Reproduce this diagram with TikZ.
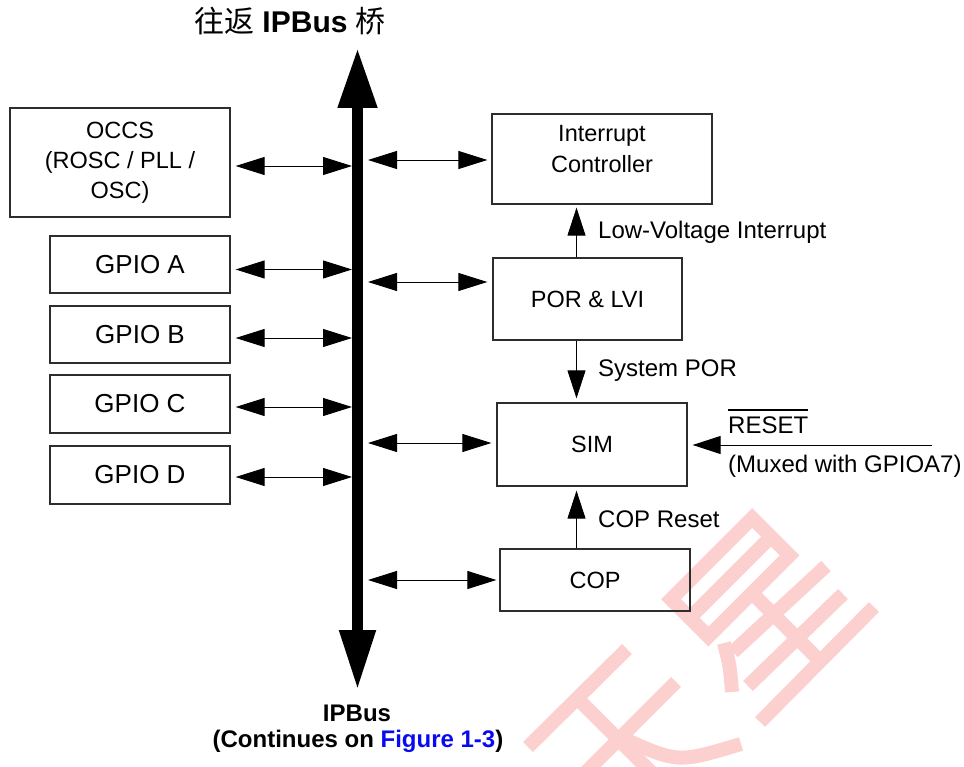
\documentclass[tikz,border=0pt]{standalone}
\usepackage{fontspec}
\setmainfont{Liberation Sans}
\newfontfamily\cjk{Noto Sans CJK SC}
\usetikzlibrary{arrows.meta}
\definecolor{wm}{RGB}{253,208,208}
\definecolor{boxline}{RGB}{45,45,45}
\definecolor{linkblue}{RGB}{10,10,240}
\newcommand\ovbar[1]{\setbox0\hbox{#1}\rlap{\rule[\dimexpr\ht0+5.5pt\relax]{\wd0}{1.3pt}}\box0}
\begin{document}
\begin{tikzpicture}[x=1pt,y=-1pt,
  box/.style={draw=boxline, line width=1.3pt, align=center, inner sep=0pt, font=\fontsize{23.5}{30}\selectfont},
  gbox/.style={box, font=\fontsize{26}{31}\selectfont, minimum width=180pt},
  biarrow/.style={line width=0.9pt, {Triangle[length=29pt,width=18pt]}-{Triangle[length=29pt,width=18pt]}},
  uarrow/.style={line width=0.9pt, -{Triangle[length=28pt,width=18pt]}},
  lbl/.style={anchor=base west, inner sep=0pt, font=\fontsize{24}{29}\selectfont},
  bus/.style={line width=11pt, {Triangle[length=60pt,width=37pt]}-{Triangle[length=60pt,width=34pt]}},
  wmstroke/.style={draw=wm, line width=14pt}]
\useasboundingbox (0,0) rectangle (964,767);

% watermark
\begin{scope}
\clip (0,0) rectangle (964,767);
\draw[wmstroke, line join=miter] (789.65,555.4) -- (752.25,518) -- (671.05,599.2) -- (708.45,636.6) -- cycle;
\draw[wmstroke] (770.95,536.7) -- (689.75,617.9);
\draw[wmstroke] (733,652) -- (826,566);
\draw[wmstroke] (748,686) -- (843,594);
\draw[wmstroke] (760,722) -- (874,607);
\draw[wmstroke] (752,593) -- (820,661);
\draw[wmstroke] (724,643) .. controls (730,666.5) .. (732,692);
\draw[wmstroke] (528,747) -- (627,649);
\draw[wmstroke] (676,682) -- (570,788);
\draw[wmstroke] (577,698) -- (665,786);
\draw[wmstroke] (622,738) .. controls (678,763) .. (741,744);
\end{scope}

% title
\node[anchor=base, inner sep=0pt, font=\fontsize{30}{36}\selectfont] (title) at (290,33)
  {{\cjk 往返} \textbf{IPBus} {\cjk 桥}};

% bus
\coordinate (bustop) at (357.5,48);
\coordinate (busbot) at (357.5,690);
\coordinate (busL) at (352,0);
\coordinate (busR) at (363,0);
\draw[bus] (bustop) -- (busbot);

% left boxes
\node[box, minimum width=220pt, minimum height=109pt] (occs) at (120,162.5) {OCCS\\(ROSC / PLL /\\OSC)};
\node[gbox, minimum height=57pt] (gpioa) at (140,264.5) {GPIO A};
\node[gbox, minimum height=57pt] (gpiob) at (140,334.5) {GPIO B};
\node[gbox, minimum height=58pt] (gpioc) at (140,404) {GPIO C};
\node[gbox, minimum height=58pt] (gpiod) at (140,475) {GPIO D};

% right boxes
\node[box, minimum width=220pt, minimum height=90pt] (intc) at (602,159) {};
\node[align=center, inner sep=0pt, font=\fontsize{23.5}{31}\selectfont] (intctext) at (602,149) {Interrupt\\Controller};
\node[box, minimum width=189pt, minimum height=82pt] (por) at (587.5,299) {POR \& LVI};
\node[box, minimum width=190pt, minimum height=83pt] (sim) at (592,444.5) {SIM};
\node[box, minimum width=190pt, minimum height=62pt] (cop) at (595,580) {COP};

% left arrows
\path ([yshift=-3.5pt]occs.east) coordinate (oa);
\path ([yshift=-5pt]gpioa.east) coordinate (ga);
\path ([yshift=-3.5pt]gpiob.east) coordinate (gb);
\path ([yshift=-3pt]gpioc.east) coordinate (gc);
\path ([yshift=-2pt]gpiod.east) coordinate (gd);
\foreach \p in {oa,ga,gb,gc,gd}
  \draw[biarrow, shorten <=5pt] (\p) -- (\p -| busL);

% right arrows
\path ([yshift=-1pt]intc.west) coordinate (ia);
\path ([yshift=17pt]por.west) coordinate (pa);
\path ([yshift=1.5pt]sim.west) coordinate (sa);
\path (cop.west) coordinate (ca);
\draw[biarrow, shorten <=5pt, shorten >=4pt] (ia -| busR) -- (ia);
\draw[biarrow, shorten <=5pt, shorten >=5pt] (pa -| busR) -- (pa);
\draw[biarrow, shorten <=5pt, shorten >=5pt] (sa -| busR) -- (sa);
\draw[biarrow, shorten <=5pt, shorten >=3pt] (ca -| busR) -- (ca);

% vertical signal arrows
\coordinate (vx) at (576.5,0);
\draw[uarrow, shorten >=3pt] (vx |- por.north) -- (vx |- intc.south);
\draw[uarrow, shorten >=4pt] (vx |- por.south) -- (vx |- sim.north);
\draw[uarrow, shorten >=4pt] (vx |- cop.north) -- (vx |- sim.south);
\coordinate (rst) at (932,445);
\draw[uarrow, shorten >=5pt] (rst) -- (rst -| sim.east);

% labels
\node[lbl] (lvi) at (598,239) {Low-Voltage Interrupt};
\node[lbl] (spor) at (598,376) {System POR};
\node[lbl] (copr) at (598,527) {COP Reset};
\node[lbl] (rstl) at (728,433) {\ovbar{RESET}};
\node[lbl] (mux) at (728,472) {(Muxed with GPIOA7)};

% bottom
\node[anchor=base, inner sep=0pt, font=\bfseries\fontsize{24}{29}\selectfont] (ipbus) at (357,721) {IPBus};
\node[anchor=base, inner sep=0pt, font=\bfseries\fontsize{24}{29}\selectfont] (cont) at (358,747)
  {(Continues on \textcolor{linkblue}{Figure 1-3})};
\end{tikzpicture}
\end{document}
